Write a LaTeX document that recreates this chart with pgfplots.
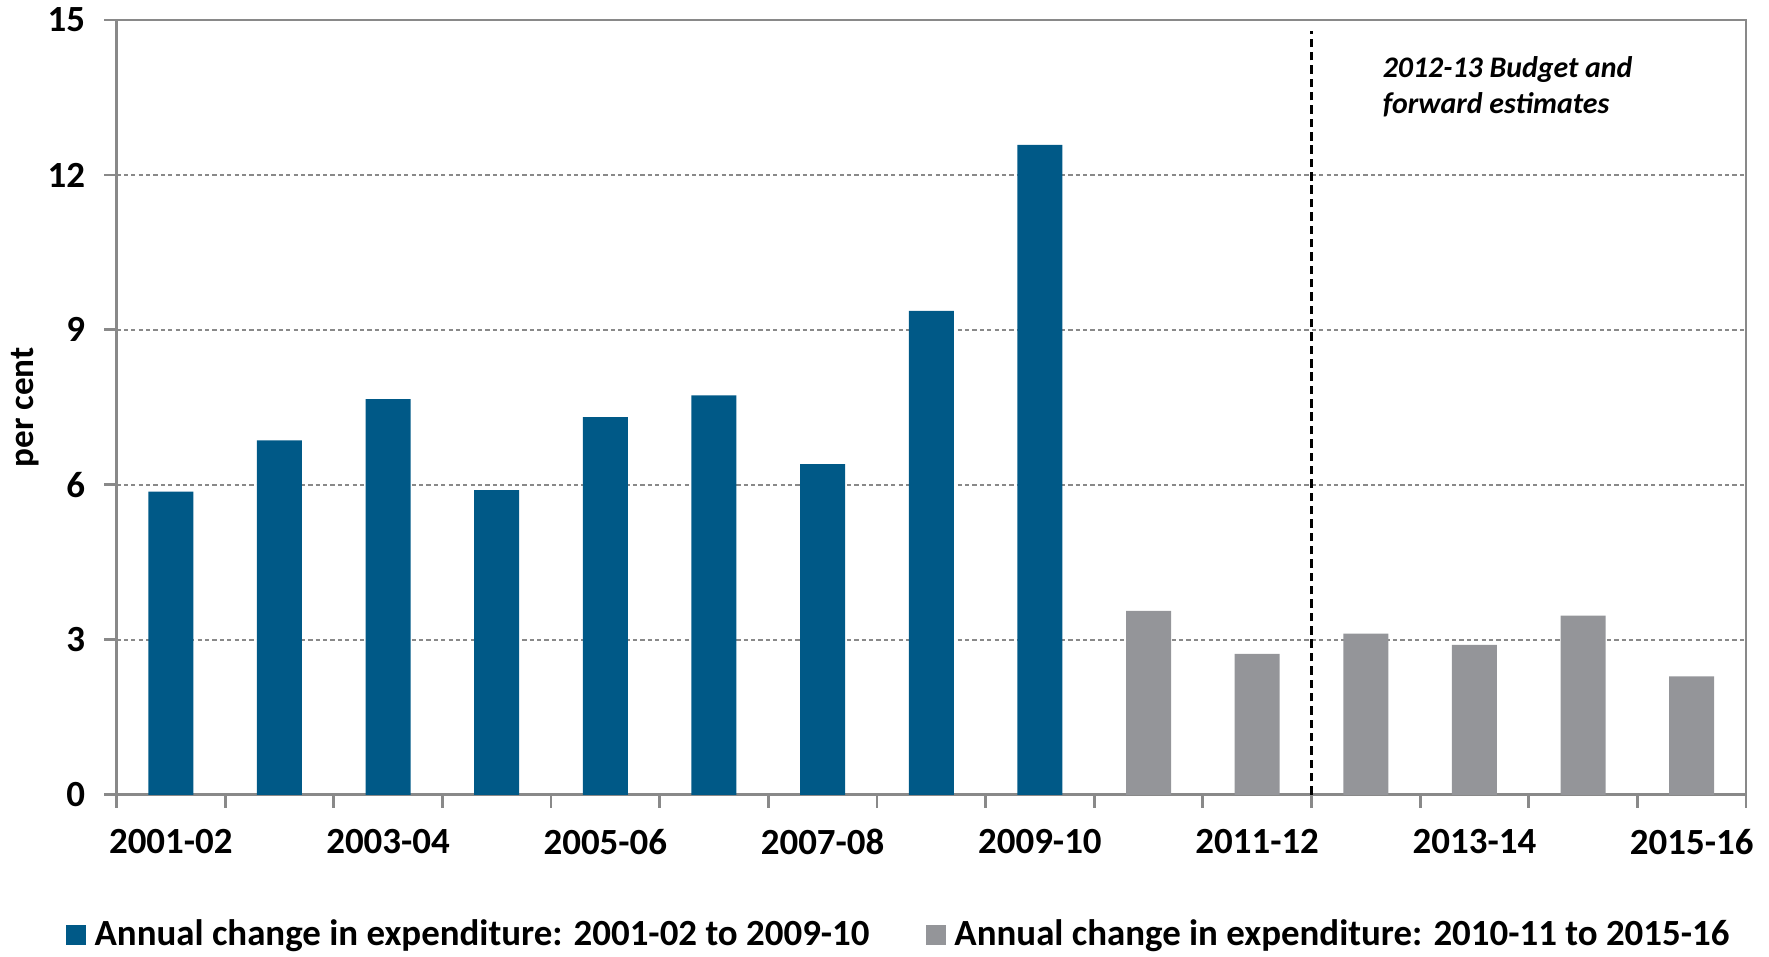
\documentclass[border=0pt]{standalone}
\usepackage{fontspec}
\setmainfont{Carlito}
\usepackage{pgfplots}
\pgfplotsset{compat=1.18}
\definecolor{barblue}{RGB}{0,89,135}
\definecolor{bargrey}{RGB}{148,149,153}
\definecolor{axgrey}{RGB}{137,137,137}
\begin{document}
\begin{tikzpicture}[font=\bfseries\fontsize{10.5}{12.6}\selectfont]
\begin{axis}[
  scale only axis, width=163mm, height=77.5mm,
  xmin=-0.5, xmax=14.5, ymin=0, ymax=15,
  ybar, bar width=4.5mm,
  legend image code/.code={\fill[#1] (0mm,-1mm) rectangle (2mm,1mm); \path (2.5mm,0mm);},
  axis line style={axgrey, line width=0.8pt},
  tick align=outside, major tick length=1.2mm, minor tick length=1.3mm,
  every tick/.style={axgrey, line width=0.8pt},
  xtick pos=lower, ytick pos=left,
  ytick={0,3,6,9,12,15},
  ymajorgrids,
  major grid style={axgrey, line width=0.7pt, dash pattern=on 1.2pt off 0.9pt},
  xtick={0,1,...,14},
  xticklabels={2001-02,,2003-04,,2005-06,,2007-08,,2009-10,,2011-12,,2013-14,,2015-16},
  major x tick style={draw=none},
  minor xtick={-0.5,0.5,...,14.5},
  minor x tick style={draw=axgrey, line width=0.8pt},
  xticklabel style={yshift=-1mm},
  yticklabel style={inner sep=0.5pt, xshift=-1.7mm},
  /pgf/number format/assume math mode=true,
  ylabel={per cent},
  ylabel style={at={(axis description cs:-0.0558,0.5)}, anchor=center, font=\bfseries\fontsize{10}{12}\selectfont},
  legend style={at={(axis description cs:0.4805,-0.181)}, anchor=center, draw=none, fill=none,
    legend columns=2, inner sep=0pt, nodes={inner sep=1pt},
    /tikz/every even column/.append style={column sep=5.3mm},
    font=\bfseries\fontsize{10.5}{12.6}\selectfont},
  legend cell align=left,
]
\addplot[fill=barblue, draw=none, bar shift=0pt] coordinates {
  (0,5.87) (1,6.86) (2,7.66) (3,5.90) (4,7.31) (5,7.73) (6,6.40) (7,9.37) (8,12.58)};
\addlegendentry{Annual change in expenditure: 2001-02 to 2009-10}
\addplot[fill=bargrey, draw=none, bar shift=0pt] coordinates {
  (9,3.56) (10,2.73) (11,3.12) (12,2.90) (13,3.47) (14,2.29)};
\addlegendentry{Annual change in expenditure: 2010-11 to 2015-16}
\addplot[sharp plot, black, line width=1.1pt, dash pattern=on 2.4pt off 1.4pt, forget plot]
  coordinates {(10.5,0) (10.5,14.78)};
\node[anchor=north west, font=\bfseries\itshape\fontsize{8.5}{10.2}\selectfont, align=left, inner sep=0pt]
  at (axis cs:11.15,14.3) {2012-13 Budget and\\forward estimates};
\end{axis}
\path ([xshift=-11.6mm,yshift=-16.2mm]current axis.south west) rectangle ([xshift=2.3mm,yshift=2.0mm]current axis.north east);
\end{tikzpicture}
\end{document}
